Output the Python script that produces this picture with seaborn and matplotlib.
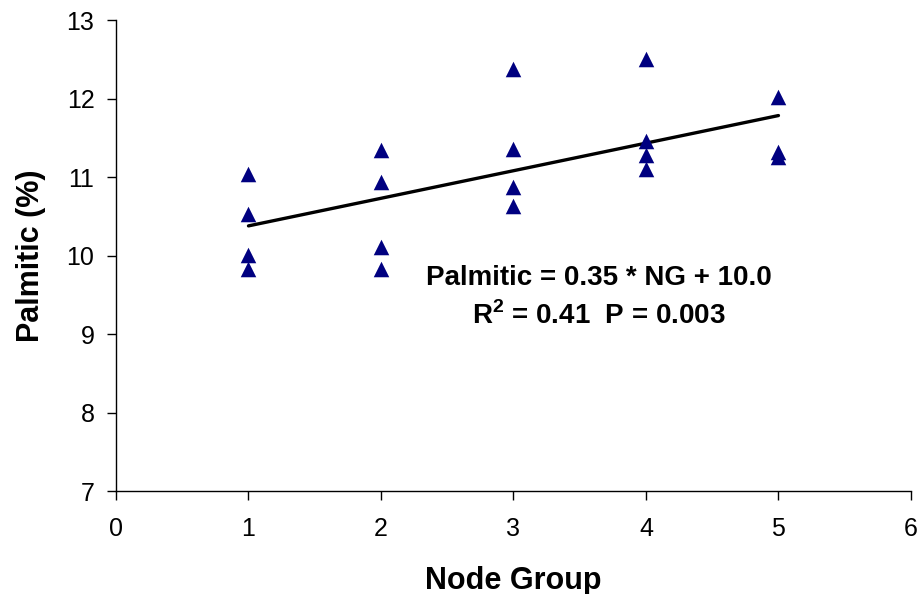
import matplotlib
matplotlib.use("Agg")
import matplotlib.pyplot as plt
import seaborn as sns
import pandas as pd

# Palmitic acid content by node group
node_group = [1, 1, 1, 1,
              2, 2, 2, 2,
              3, 3, 3, 3,
              4, 4, 4, 4,
              5, 5, 5]
palmitic = [11.04, 10.53, 10.01, 9.83,
            11.35, 10.94, 10.11, 9.83,
            12.38, 11.36, 10.87, 10.63,
            12.50, 11.46, 11.28, 11.10,
            12.02, 11.32, 11.26]

x_ticks = [0, 1, 2, 3, 4, 5, 6]
y_ticks = [7, 8, 9, 10, 11, 12, 13]

df = pd.DataFrame({"Node Group": node_group, "Palmitic": palmitic})

sns.set_theme(style="white")
plt.rcParams["font.family"] = ["Liberation Sans", "DejaVu Sans"]
plt.rcParams.update({
    "text.color": "black",
    "axes.labelcolor": "black",
    "xtick.color": "black",
    "ytick.color": "black",
    "mathtext.fontset": "custom",
    "mathtext.rm": "Liberation Sans",
    "mathtext.bf": "Liberation Sans:bold",
})

fig = plt.figure(figsize=(9.22, 5.94), dpi=100)
ax = fig.add_axes([0.1258, 0.1734, 0.8622, 0.7929])

sns.regplot(data=df, x="Node Group", y="Palmitic", ax=ax, ci=None, truncate=True,
            marker="^",
            scatter_kws=dict(s=125, color="#000080", edgecolor="#000080",
                             linewidths=0, zorder=3, alpha=1),
            line_kws=dict(color="black", lw=2.4, zorder=2))

ax.set_xlim(0, 6)
ax.set_ylim(7, 13)
ax.set_xticks(x_ticks)
ax.set_yticks(y_ticks)
ax.tick_params(axis="both", labelsize=18, direction="out",
               length=6.5, width=1, left=True, bottom=True)
ax.tick_params(axis="x", pad=12)
ax.tick_params(axis="y", pad=9)
for side in ("top", "right"):
    ax.spines[side].set_visible(False)
for side in ("left", "bottom"):
    ax.spines[side].set_color("black")
    ax.spines[side].set_linewidth(1)

ax.set_xlabel("Node Group", fontsize=22, fontweight="bold", labelpad=18)
ax.set_ylabel("Palmitic (%)", fontsize=22, fontweight="bold", labelpad=15)

ax.text(3.645, 9.71, "Palmitic = 0.35 * NG + 10.0", ha="center", va="center",
        fontsize=20, fontweight="bold")
ax.text(3.645, 9.23, "R$^{\\mathbf{2}}$ = 0.41  P = 0.003", ha="center", va="center",
        fontsize=20, fontweight="bold")

fig.savefig("out.png", dpi=100)
